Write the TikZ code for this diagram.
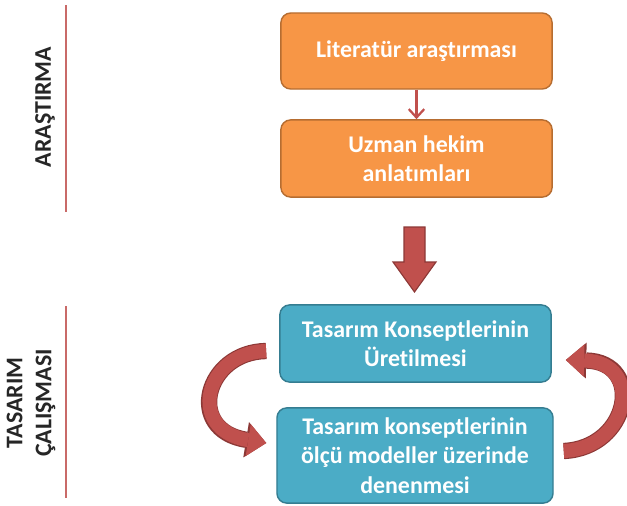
\documentclass[tikz,border=0pt]{standalone}
\usepackage{fontspec}
\setmainfont{Carlito}[Ligatures={NoCommon}]
\usetikzlibrary{arrows.meta,calc}
\definecolor{turuncu}{HTML}{F79646}
\definecolor{turuncuk}{HTML}{B66D31}
\definecolor{mavi}{HTML}{4BACC6}
\definecolor{mavik}{HTML}{357D91}
\definecolor{kirmizi}{HTML}{C0504D}
\definecolor{kirmizik}{HTML}{8C3836}
\begin{document}
\begin{tikzpicture}[x=0.025cm,y=-0.025cm,
  kutu/.style={rounded corners=7pt,line width=1pt,text=white,align=center,
    font=\fontsize{17}{21}\selectfont\bfseries,minimum width=6.78cm},
  turuncukutu/.style={kutu,fill=turuncu,draw=turuncuk},
  mavikutu/.style={kutu,fill=mavi,draw=mavik},
  baslik/.style={rotate=90,align=center,text=black!85,
    font=\fontsize{17}{20.6}\selectfont\bfseries},
  ayrac/.style={kirmizi!85,line width=1.8pt},
  bloktok/.style={draw=kirmizik,fill=kirmizi,line width=0.8pt,line join=miter},
  donus/.style={kirmizi,line width=10pt,
    -{Triangle[length=13pt,width=23pt,line width=0pt]},
    preaction={draw=kirmizik,line width=11.6pt,
      -{Triangle[length=14.5pt,width=25.5pt,line width=0pt]}}}]
\useasboundingbox (0,0) rectangle (627,506);
% kutular
\node[turuncukutu,minimum height=1.9cm] (lit) at (416.5,51) {Literatür araştırması};
\node[turuncukutu,minimum height=1.93cm] (uzm) at (416.5,158.5) {Uzman hekim\\anlatımları};
\node[mavikutu,minimum height=1.93cm] (kon) at (415.5,343.5) {Tasarım Konseptlerinin\\Üretilmesi};
\node[mavikutu,minimum height=2.38cm,minimum width=6.9cm] (den) at (415,455.5)
  {Tasarım konseptlerinin\\ölçü modeller üzerinde\\denenmesi};
% yan basliklar
\node[baslik] (ara) at (45,107) {ARAŞTIRMA};
\node[baslik] (tas) at (31,403) {TASARIM\\ÇALIŞMASI};
\draw[ayrac] (66,5) -- (66,212);
\draw[ayrac] (66,306) -- (66,498);
% oklar
\draw[kirmizi,line width=1.6pt,-{Straight Barb[length=6pt,width=11pt]}] (lit) -- (uzm);
\draw[bloktok] (404,227) -- (425,227) -- (425,262) -- (436,262) -- (414.5,292)
  -- (393,262) -- (404,262) -- cycle;
\draw[donus] ($(kon.west)+(-13,7.5)$) .. controls (205,352) and (185,430) .. ($(den.west)+(-10,-12.5)$);
\draw[donus] ($(den.east)+(10,-4.5)$) .. controls (630,448) and (645,362) .. ($(kon.east)+(14,16.5)$);
\end{tikzpicture}
\end{document}
